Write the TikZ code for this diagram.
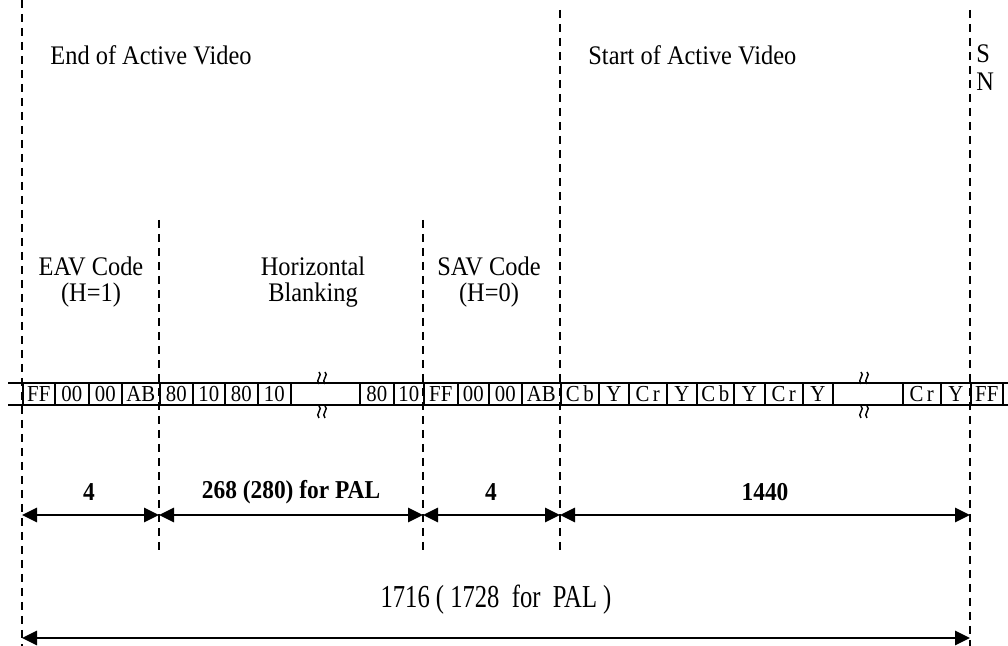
\documentclass[tikz,border=0pt]{standalone}
\usepackage{fontspec}
\setmainfont{Liberation Serif}
\usetikzlibrary{arrows.meta}
\newcommand{\tall}[2][1.1]{\scalebox{1}[#1]{#2}}
\begin{document}
\begin{tikzpicture}[x=0.5pt,y=-0.5pt,
  guide/.style={line width=0.75pt,dash pattern=on 4pt off 3pt},
  rowline/.style={line width=0.8pt},
  cell/.style={draw,line width=0.8pt,inner sep=0pt,minimum height=11pt,anchor=west,
    font=\fontsize{10.4}{12}\selectfont},
  lbl/.style={font=\fontsize{12.2}{14}\selectfont,inner sep=0pt},
  blbl/.style={font=\fontsize{11.7}{14}\selectfont\bfseries,inner sep=0pt},
  dim/.style={line width=1.4pt,{Triangle[length=7.5pt,width=7pt]}-{Triangle[length=7.5pt,width=7pt]}},
  squig/.style={line width=0.7pt}]
\useasboundingbox (0,0) rectangle (1008,646);
% dashed guides
\draw[guide] (22,0) -- (22,646);
\draw[guide] (970,10) -- (970,646);
\draw[guide] (560,10) -- (560,550);
\draw[guide] (159,220) -- (159,550);
\draw[guide] (423,220) -- (423,550);
% row lines
\draw[rowline] (8,383) -- (1008,383);
\draw[rowline] (8,405) -- (1008,405);
% cells
\foreach \a/\b/\t [count=\i] in {22/54/FF,54/88/00,88/121/00,121/159/AB,159/192/80,192/224/10,224/257/80,257/290/10,
  359/393/80,393/423/10,423/457/FF,457/488/00,488/521/00,521/560/AB,
  560/598/C\,b,598/628/Y,628/666/C\,r,666/696/Y,696/733/C\,b,733/764/Y,764/802/C\,r,802/832/Y,
  902/940/C\,r,940/970/Y,970/1002/FF}
  \node[cell,minimum width=(\b-\a)*0.5pt] (c\i) at (\a,394) {\tall{\t}};
% squiggles
\foreach \x/\y in {319/372,325/372,319/406,325/406,861/372,867/372,861/406,867/406}
  \draw[squig] (\x,\y) .. controls (\x+4.5,\y+3) and (\x-4.5,\y+8) .. (\x,\y+12);
% top labels
\node[lbl,anchor=west] (eav) at (50,55) {\tall{End of Active Video}};
\node[lbl,anchor=west] (sav) at (588,55) {\tall{Start of Active Video}};
\node[lbl,anchor=west] (s1) at (976,54) {\tall{S}};
\node[lbl,anchor=west] (s2) at (976,82) {\tall{N}};
\node[lbl] (e1) at (91,266) {\tall{EAV Code}};
\node[lbl] (e2) at (91,295) {\tall{(H=1)}};
\node[lbl] (h1) at (313,266) {\tall{Horizontal}};
\node[lbl] (h2) at (313,295) {\tall{Blanking}};
\node[lbl] (v1) at (489,266) {\tall{SAV Code}};
\node[lbl] (v2) at (489,295) {\tall{(H=0)}};
% dimension labels
\node[blbl] (d1) at (89,492) {\tall{4}};
\node[blbl] (d2) at (291,492) {\tall{268 (280) for PAL}};
\node[blbl] (d3) at (491,492) {\tall{4}};
\node[blbl] (d4) at (765,492) {\tall{1440}};
\node[font=\fontsize{12.3}{15}\selectfont,inner sep=0pt] (tot) at (496,600) {\tall[1.3]{1716 ( 1728~ for~ PAL )}};
% dimension arrows
\coordinate (p0) at (22,515);
\coordinate (p1) at (159,515);
\coordinate (p2) at (423,515);
\coordinate (p3) at (560,515);
\coordinate (p4) at (970,515);
\coordinate (q0) at (22,638);
\coordinate (q1) at (970,638);
\draw[dim] (p0) -- (p1);
\draw[dim] (p1) -- (p2);
\draw[dim] (p2) -- (p3);
\draw[dim] (p3) -- (p4);
\draw[dim] (q0) -- (q1);
\end{tikzpicture}
\end{document}
